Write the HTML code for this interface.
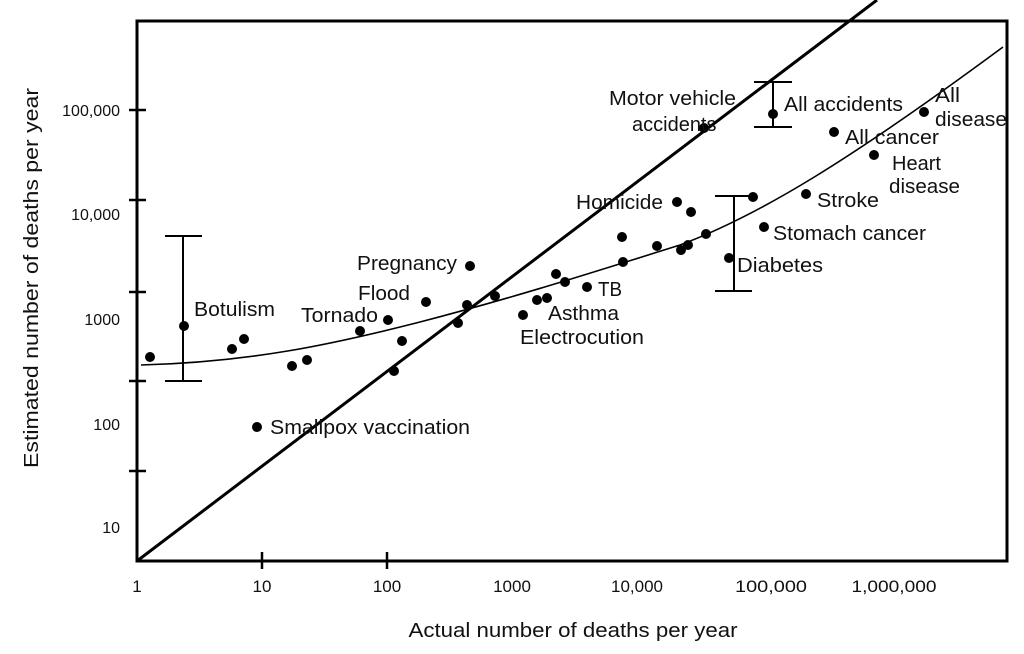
<!DOCTYPE html>
<html><head><meta charset="utf-8"><style>
body{margin:0;background:#fff;}
svg text{font-family:"Liberation Sans",Arial,sans-serif;font-size:20px;fill:#111;}
svg text.y{font-size:16px;}
svg text.x{font-size:17px;}
</style></head><body>
<svg width="1024" height="649" viewBox="0 0 1024 649" xmlns="http://www.w3.org/2000/svg">
<rect x="137" y="21" width="870" height="540" fill="none" stroke="#000" stroke-width="3"/>
<g stroke="#000" stroke-width="2.5">
<line x1="129" y1="110" x2="146" y2="110"/>
<line x1="129" y1="200" x2="146" y2="200"/>
<line x1="129" y1="292" x2="146" y2="292"/>
<line x1="129" y1="381" x2="146" y2="381"/>
<line x1="129" y1="471" x2="146" y2="471"/>
<line x1="262" y1="552" x2="262" y2="569"/>
<line x1="387" y1="552" x2="387" y2="569"/>
</g>
<g text-anchor="end">
<text class="y" x="120" y="116">100,000</text><text class="y" x="120" y="220">10,000</text>
<text class="y" x="120" y="325">1000</text><text class="y" x="120" y="430">100</text><text class="y" x="120" y="533">10</text>
</g>
<g text-anchor="middle">
<text class="x" x="137" y="592">1</text><text class="x" x="262" y="592">10</text><text class="x" x="387" y="592">100</text>
<text class="x" x="512" y="592">1000</text><text class="x" x="637" y="592">10,000</text><text class="x" x="771" y="592" textLength="72" lengthAdjust="spacingAndGlyphs">100,000</text>
<text class="x" x="894" y="592" textLength="85" lengthAdjust="spacingAndGlyphs">1,000,000</text>
<text x="573" y="637" textLength="329" lengthAdjust="spacingAndGlyphs">Actual number of deaths per year</text>
<text transform="translate(38,278) rotate(-90)" textLength="380" lengthAdjust="spacingAndGlyphs">Estimated number of deaths per year</text>
</g>
<line x1="137" y1="561" x2="877" y2="0" stroke="#000" stroke-width="3"/>
<path d="M141,365 C250,362 330,345 420,322 C520,296 600,270 680,245 C760,215 850,160 1003,47" fill="none" stroke="#000" stroke-width="1.6"/>
<g stroke="#000" stroke-width="2">
<line x1="183" y1="236" x2="183" y2="381"/><line x1="165" y1="236" x2="202" y2="236"/><line x1="165" y1="381" x2="202" y2="381"/>
<line x1="734" y1="196" x2="734" y2="291"/><line x1="715" y1="196" x2="752" y2="196"/><line x1="715" y1="291" x2="752" y2="291"/>
<line x1="773" y1="82" x2="773" y2="127"/><line x1="754" y1="82" x2="792" y2="82"/><line x1="754" y1="127" x2="792" y2="127"/>
</g>
<g fill="#000">
<circle cx="150" cy="357" r="5"/><circle cx="184" cy="326" r="5"/><circle cx="232" cy="349" r="5"/><circle cx="244" cy="339" r="5"/>
<circle cx="292" cy="366" r="5"/><circle cx="307" cy="360" r="5"/><circle cx="360" cy="331" r="5"/><circle cx="388" cy="320" r="5"/>
<circle cx="402" cy="341" r="5"/><circle cx="394" cy="371" r="5"/><circle cx="426" cy="302" r="5"/><circle cx="467" cy="305" r="5"/>
<circle cx="470" cy="266" r="5"/><circle cx="458" cy="323" r="5"/><circle cx="495" cy="296" r="5"/><circle cx="523" cy="315" r="5"/>
<circle cx="537" cy="300" r="5"/><circle cx="547" cy="298" r="5"/><circle cx="556" cy="274" r="5"/><circle cx="565" cy="282" r="5"/>
<circle cx="587" cy="287" r="5"/><circle cx="622" cy="237" r="5"/><circle cx="623" cy="262" r="5"/><circle cx="257" cy="427" r="5"/>
<circle cx="657" cy="246" r="5"/><circle cx="677" cy="202" r="5"/><circle cx="681" cy="250" r="5"/><circle cx="688" cy="245" r="5"/>
<circle cx="691" cy="212" r="5"/><circle cx="706" cy="234" r="5"/><circle cx="729" cy="258" r="5"/><circle cx="753" cy="197" r="5"/>
<circle cx="704" cy="128" r="5"/><circle cx="773" cy="114" r="5"/><circle cx="764" cy="227" r="5"/><circle cx="806" cy="194" r="5"/>
<circle cx="834" cy="132" r="5"/><circle cx="874" cy="155" r="5"/><circle cx="924" cy="112" r="5"/>
</g>
<g>
<text x="194" y="316" textLength="81" lengthAdjust="spacingAndGlyphs">Botulism</text>
<text x="301" y="322" textLength="77" lengthAdjust="spacingAndGlyphs">Tornado</text>
<text x="358" y="300" textLength="52" lengthAdjust="spacingAndGlyphs">Flood</text>
<text x="357" y="270" textLength="100" lengthAdjust="spacingAndGlyphs">Pregnancy</text>
<text x="270" y="434" textLength="200" lengthAdjust="spacingAndGlyphs">Smallpox vaccination</text>
<text x="576" y="209" textLength="87" lengthAdjust="spacingAndGlyphs">Homicide</text>
<text x="598" y="296" textLength="24" lengthAdjust="spacingAndGlyphs">TB</text>
<text x="548" y="320" textLength="71" lengthAdjust="spacingAndGlyphs">Asthma</text>
<text x="520" y="344" textLength="124" lengthAdjust="spacingAndGlyphs">Electrocution</text>
<text x="737" y="272" textLength="86" lengthAdjust="spacingAndGlyphs">Diabetes</text>
<text x="773" y="240" textLength="153" lengthAdjust="spacingAndGlyphs">Stomach cancer</text>
<text x="817" y="207" textLength="62" lengthAdjust="spacingAndGlyphs">Stroke</text>
<text x="892" y="170">Heart</text><text x="889" y="193" textLength="71" lengthAdjust="spacingAndGlyphs">disease</text>
<text x="845" y="144" textLength="94" lengthAdjust="spacingAndGlyphs">All cancer</text>
<text x="784" y="111" textLength="119" lengthAdjust="spacingAndGlyphs">All accidents</text>
<text x="609" y="105" textLength="127" lengthAdjust="spacingAndGlyphs">Motor vehicle</text><text x="632" y="131">accidents</text>
<text x="935" y="102" textLength="25" lengthAdjust="spacingAndGlyphs">All</text><text x="935" y="126" textLength="72" lengthAdjust="spacingAndGlyphs">disease</text>
</g>
</svg>
</body></html>
